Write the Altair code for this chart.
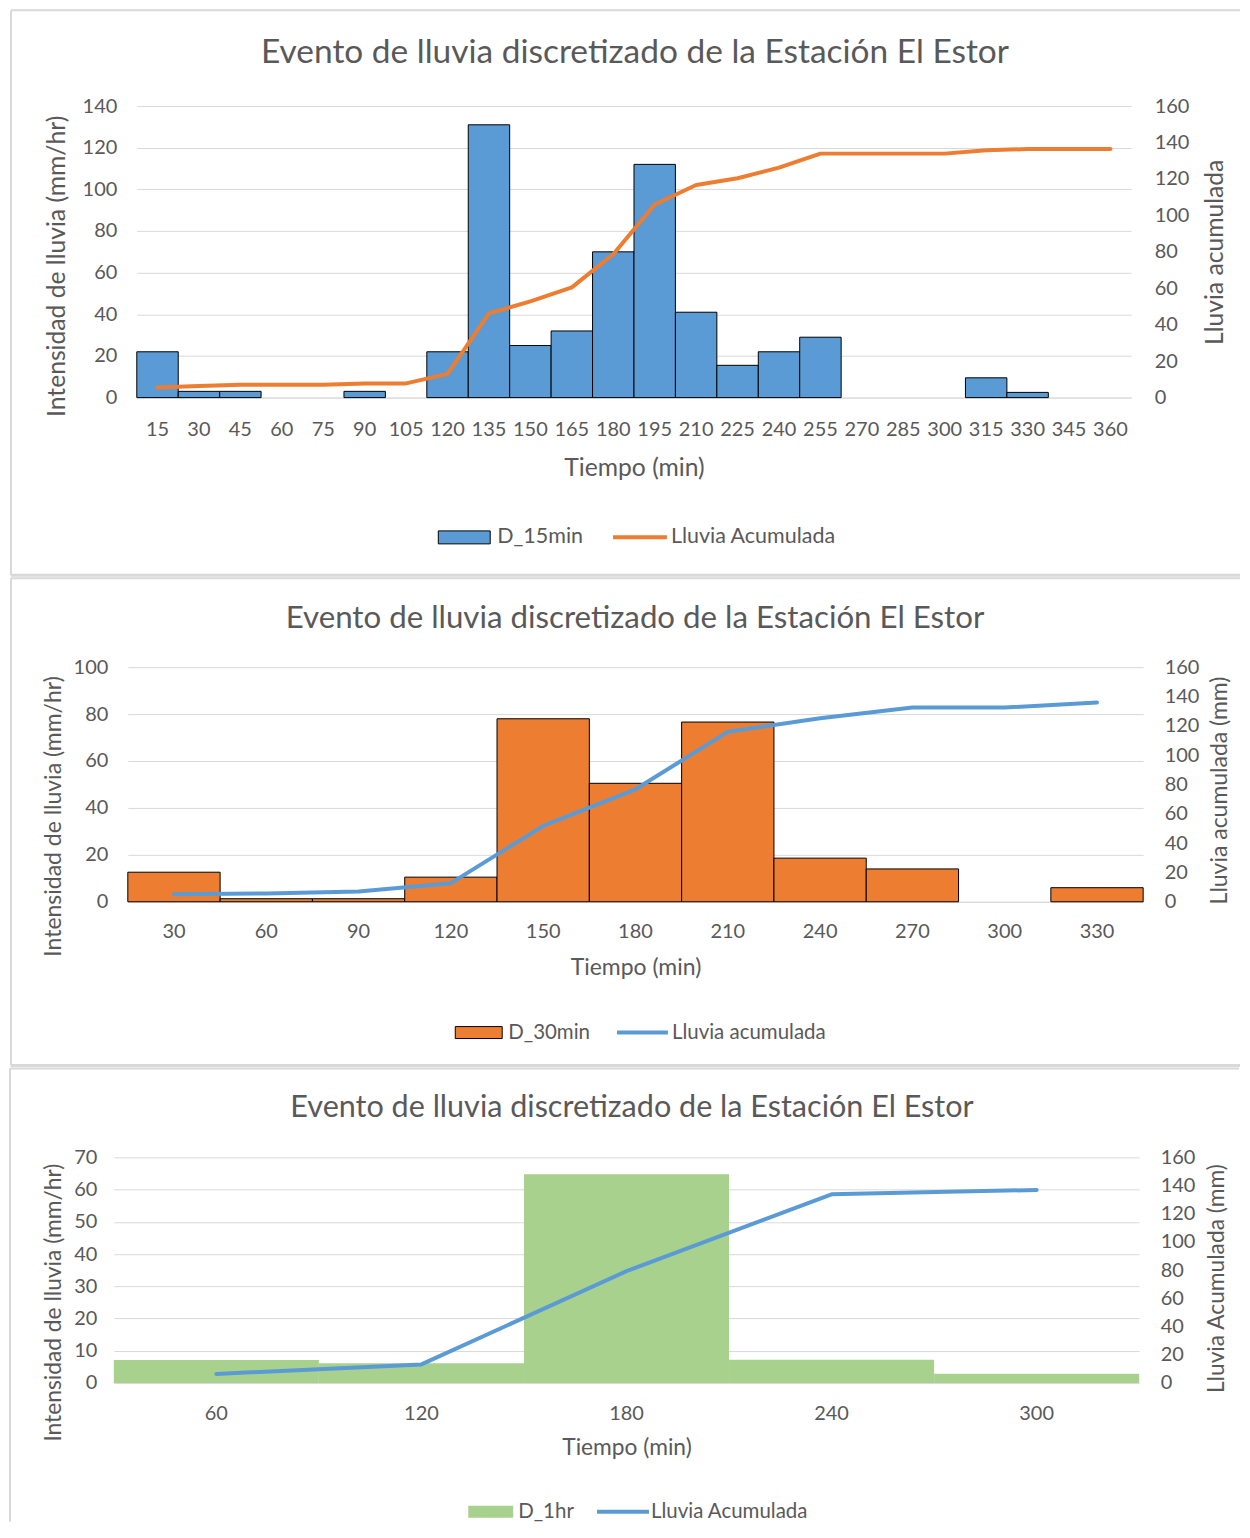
import altair as alt
import pandas as pd

FONT = "Lato"
GRAY = "#595959"
GRID = "#D9D9D9"
FRAME = "#D9D9D9"
TITLE = "Evento de lluvia discretizado de la Estación El Estor"

# ---------------- data ----------------
t15 = [15, 30, 45, 60, 75, 90, 105, 120, 135, 150, 165, 180, 195, 210, 225, 240,
       255, 270, 285, 300, 315, 330, 345, 360]
i15 = [22, 3, 3, 0, 0, 3, 0, 22, 131, 25, 32, 70, 112, 41, 15.5, 22,
       29, 0, 0, 0, 9.5, 2.5, 0, 0]
a15 = [5.6, 6.4, 7.1, 7.1, 7.1, 7.8, 7.8, 13, 46.2, 52.8, 60.5, 78.7, 106, 116.7, 120.4, 126.2,
       133.9, 133.9, 133.9, 133.9, 135.7, 136.4, 136.4, 136.4]

t30 = [30, 60, 90, 120, 150, 180, 210, 240, 270, 300, 330]
i30 = [12.6, 1.3, 1.3, 10.5, 78, 50.5, 76.6, 18.6, 14, 0, 6]
a30 = [5.2, 5.7, 7.0, 12.7, 51.7, 76.7, 115.9, 125.1, 132.5, 132.5, 135.9]

t60 = [60, 120, 180, 240, 300]
i60 = [7.1, 6.1, 64.8, 7.2, 2.9]
a60 = [6.4, 13.2, 79.3, 133.8, 136.9]


def rule(x, y, x2=None, y2=None, width=2):
    enc = {"x": alt.value(x), "y": alt.value(y)}
    if x2 is not None:
        enc["x2"] = alt.value(x2)
    if y2 is not None:
        enc["y2"] = alt.value(y2)
    return alt.Chart(pd.DataFrame({"a": [1]})).mark_rule(
        color=FRAME, strokeWidth=width).encode(**enc)


def panel(t, inten, accum, bar_name, line_name, bar_color, line_color, bar_stroke,
          w, h, ymax, ystep, right_title, g):
    df = pd.DataFrame({"t": t, "i": inten, "a": accum,
                       "bn": bar_name, "ln": line_name})
    xscale = alt.Scale(domain=t, paddingInner=0, paddingOuter=0)
    xaxis = alt.Axis(title="Tiempo (min)", labelAngle=0, ticks=False, grid=False,
                     domainColor=GRID, labelFont=FONT, labelFontSize=20,
                     labelColor=GRAY, labelPadding=g["xlp"], labelOverlap=False,
                     titleFont=FONT, titleFontSize=g["ats"], titleColor=GRAY,
                     titleFontWeight="normal", titlePadding=g["xtp"])
    bar_legend = alt.Legend(orient="none", legendX=g["blx"], legendY=g["bly"],
                            title=None, symbolType=g["bpath"], symbolSize=g["bsize"],
                            symbolStrokeColor="black",
                            symbolStrokeWidth=1 if bar_stroke else 0,
                            labelFont=FONT, labelFontSize=g["lfs"], labelColor=GRAY,
                            labelOffset=g["blo"], labelLimit=400, padding=0)
    line_legend = alt.Legend(orient="none", legendX=g["llx"], legendY=g["lly"],
                             title=None, symbolType="stroke", symbolSize=g["lsize"],
                             symbolStrokeWidth=4,
                             labelFont=FONT, labelFontSize=g["lfs"], labelColor=GRAY,
                             labelOffset=g["llo"], labelLimit=400, padding=0)

    bars = alt.Chart(df).transform_filter("datum.i > 0").mark_bar(
        stroke="black" if bar_stroke else None,
        strokeWidth=1 if bar_stroke else 0,
    ).encode(
        x=alt.X("t:O", scale=xscale, axis=xaxis),
        y=alt.Y("i:Q", scale=alt.Scale(domain=[0, ymax], nice=False),
                axis=alt.Axis(title="Intensidad de lluvia (mm/hr)",
                              values=list(range(0, ymax + 1, ystep)),
                              grid=True, gridColor=GRID, domain=False, ticks=False,
                              labelFont=FONT, labelFontSize=20, labelColor=GRAY,
                              labelPadding=g["ylp"], titleFont=FONT,
                              titleFontSize=g["ats"], titleColor=GRAY,
                              titleFontWeight="normal", titlePadding=g["ytp"],
                              titleY=g["lty"])),
        fill=alt.Fill("bn:N", scale=alt.Scale(domain=[bar_name], range=[bar_color]),
                      legend=bar_legend),
    )
    line = alt.Chart(df).mark_line(strokeWidth=4, strokeCap="round",
                                   strokeJoin="round").encode(
        x=alt.X("t:O", scale=xscale, axis=xaxis),
        y=alt.Y("a:Q", scale=alt.Scale(domain=[0, 160], nice=False),
                axis=alt.Axis(title=right_title, orient="right",
                              values=list(range(0, 161, 20)), grid=False,
                              domain=False, ticks=False, labelFont=FONT,
                              labelFontSize=20, labelColor=GRAY,
                              labelPadding=g["rlp"], titleFont=FONT,
                              titleFontSize=g["ats"], titleColor=GRAY,
                              titleFontWeight="normal", titlePadding=g["rtp"],
                              titleAngle=270, titleBaseline="top",
                              titleY=g["rty"])),
        stroke=alt.Stroke("ln:N", scale=alt.Scale(domain=[line_name], range=[line_color]),
                          legend=line_legend),
    )
    title = alt.Chart(pd.DataFrame({"a": [1]})).mark_text(
        text=TITLE, font=FONT, fontSize=g["tfs"], color=GRAY, align="center",
        baseline="middle").encode(x=alt.value(g["tx"]), y=alt.value(g["ty"]))

    fr = g["frame"]
    layers = [bars, line, title,
              rule(fr["L"], fr["T"], x2=fr["R"], width=2),
              rule(fr["L"], fr["T"], y2=fr["B"], width=2)]
    if fr.get("bottom"):
        layers.append(rule(fr["L"], fr["B"], x2=fr["R"], width=3))
    body = alt.layer(*layers).resolve_scale(
        y="independent", fill="independent", stroke="independent"
    ).properties(width=w, height=h)
    spacer = alt.Chart(pd.DataFrame({"a": [1]})).mark_text(text="").encode(
        x=alt.value(0), y=alt.value(0)).properties(width=1, height=1)
    return alt.hconcat(spacer, body, spacing=0)


# frame: left line at page x ~10, right end at page x 1241
g1 = dict(xlp=22, xtp=16, ats=24.7, ylp=20, ytp=13, rlp=23, rtp=14, tfs=33.5,
          tx=499, ty=-53, lfs=21.5, lty=160, rty=146,
          bpath="M-1,-0.25H1V0.25H-1Z", bsize=2704, blx=301.5, bly=405.5, blo=6.5,
          lsize=2916, llx=475, lly=403, llo=2,
          frame=dict(L=-126, R=1105, T=-96, B=470, bottom=True))
g2 = dict(xlp=20, xtp=15, ats=23, ylp=20, ytp=8, rlp=21, rtp=10, tfs=31.3,
          tx=508, ty=-48, lfs=20.5, lty=149, rty=123,
          bpath="M-1,-0.255H1V0.255H-1Z", bsize=2209, blx=327.5, bly=342, blo=5.5,
          lsize=2601, llx=488, lly=338.5, llo=2,
          frame=dict(L=-117, R=1114, T=-89, B=399, bottom=True))
g3 = dict(xlp=21, xtp=13, ats=22.8, ylp=17, ytp=8, rlp=21, rtp=11, tfs=30.6,
          tx=519, ty=-49, lfs=20.5, lty=145, rty=121,
          bpath="M-1,-0.27H1V0.27H-1Z", bsize=2025, blx=355, bly=332.5, blo=5,
          lsize=2704, llx=482, lly=327, llo=0,
          frame=dict(L=-104, R=1127, T=-89, B=365, bottom=False))

p1 = panel(t15, i15, a15, "D_15min", "Lluvia Acumulada", "#5B9BD5", "#ED7D31", True,
           996, 292, 140, 20, "Lluvia acumulada", g1)
p2 = panel(t30, i30, a30, "D_30min", "Lluvia acumulada", "#ED7D31", "#5B9BD5", True,
           1017, 235, 100, 20, "Lluvia acumulada (mm)", g2)
p3 = panel(t60, i60, a60, "D_1hr", "Lluvia Acumulada", "#A9D18E", "#5B9BD5", False,
           1027, 226, 70, 10, "Lluvia Acumulada (mm)", g3)

chart = alt.vconcat(p1, p2, p3, spacing=0).properties(
    padding=0, background="white"
).configure_view(stroke=None)

chart.save("out.html", embed_options={"renderer": "svg", "actions": False})
